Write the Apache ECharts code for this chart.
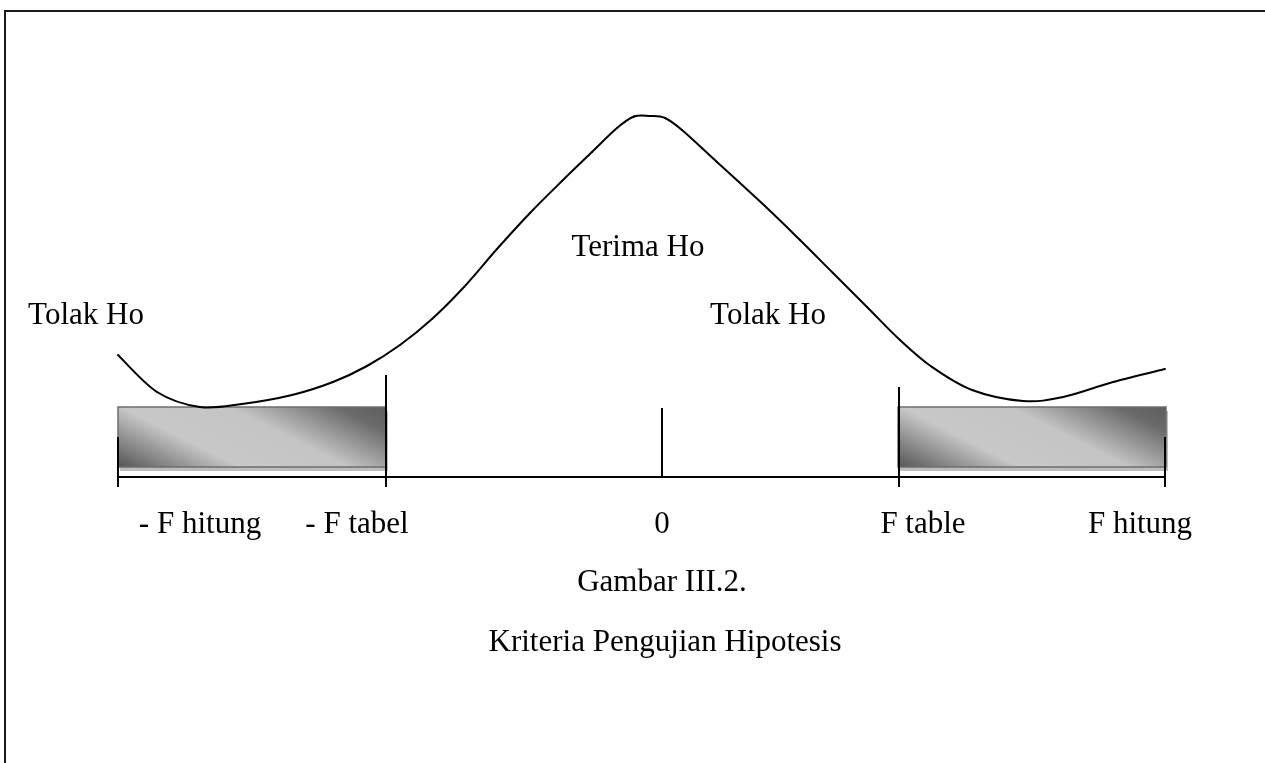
<!DOCTYPE html>
<html>
<head>
<meta charset="utf-8">
<title>Kriteria Pengujian Hipotesis</title>
<script src="https://cdn.jsdelivr.net/npm/echarts@6/dist/echarts.min.js"></script>
<style>
  html, body { margin: 0; padding: 0; background: #fff; }
  #main { width: 1265px; height: 763px; }
</style>
</head>
<body>
<div id="main"></div>
<script>
// x: distance from the 0 mark, y: height above the base line
const curveX = [-544, -505, -462, -420, -370, -329, -295, -262, -230, -198, -165, -132, -100, -70, -45, -28, -12, 3, 20, 55, 105, 138, 171, 205, 238, 270, 310, 361, 401, 451, 503];
const curveY = [122, 85, 70, 73, 82, 95, 111, 132, 158, 190, 228, 264, 296, 325, 349, 360.5, 361, 359, 347, 315, 269, 237, 204, 170, 137, 110, 87, 76, 80, 95, 108];

const tickX = [-544, -276, 0, 237, 503];
const tickTop = [40, 102, 69, 90, 40];
const tickBottom = [-10, -10, 0, -10, -10];
const tickLabels = ['- F hitung', '- F tabel', '0', 'F table', 'F hitung'];
const tickLabelX = [-462, -305, 0, 261, 478];
const tickLabelY = -48;

const regionLabels = ['Tolak Ho', 'Terima Ho', 'Tolak Ho'];
const regionLabelX = [-576, -24, 106];
const regionLabelY = [161, 229, 161];

const rejectStart = [-544, 236];
const rejectEnd = [-276, 504];
const rejectLow = 10;
const rejectHigh = 70;

const captionLines = ['Gambar III.2.', 'Kriteria Pengujian Hipotesis'];
const captionX = [0, 3];
const captionY = [-106, -166];

const serif = "'Liberation Serif', 'Times New Roman', serif";

var chart = echarts.init(document.getElementById('main'));

function textSeries(names, xs, ys) {
  return {
    type: 'scatter',
    symbolSize: 0,
    silent: true,
    itemStyle: { opacity: 1 },
    data: names.map(function (n, i) {
      return { value: [xs[i], Array.isArray(ys) ? ys[i] : ys], name: n };
    }),
    label: {
      show: true,
      position: 'inside',
      formatter: '{b}',
      color: '#000',
      opacity: 1,
      fontFamily: serif,
      fontSize: 31
    }
  };
}

// catmull-rom segment between point i and i+1
function curveSegment(params, api) {
  var i = params.dataIndex;
  var n = curveX.length;
  if (i >= n - 1) return { type: 'group', children: [] };
  var pt = function (k) {
    k = Math.max(0, Math.min(n - 1, k));
    return api.coord([curveX[k], curveY[k]]);
  };
  var p0 = pt(i - 1), p1 = pt(i), p2 = pt(i + 1), p3 = pt(i + 2);
  return {
    type: 'bezierCurve',
    shape: {
      x1: p1[0], y1: p1[1],
      cpx1: p1[0] + (p2[0] - p0[0]) / 6, cpy1: p1[1] + (p2[1] - p0[1]) / 6,
      cpx2: p2[0] - (p3[0] - p1[0]) / 6, cpy2: p2[1] - (p3[1] - p1[1]) / 6,
      x2: p2[0], y2: p2[1]
    },
    style: { stroke: '#000', lineWidth: 2, fill: null, lineCap: 'round' }
  };
}

chart.setOption({
  animation: false,
  backgroundColor: '#fff',
  grid: { left: 0, right: 0, top: 0, bottom: 0 },
  xAxis: { type: 'value', min: -662, max: 603, show: false },
  yAxis: { type: 'value', min: -286, max: 477, show: false },
  graphic: [{
    type: 'rect',
    shape: { x: 5, y: 11, width: 1400, height: 900 },
    style: { fill: null, stroke: '#1a1a1a', lineWidth: 2 },
    silent: true
  }],
  series: [
    {
      // shaded rejection areas
      type: 'custom',
      silent: true,
      data: rejectStart.map(function (s, i) { return [s, rejectEnd[i]]; }),
      renderItem: function (params, api) {
        var p0 = api.coord([api.value(0), rejectLow]);
        var p1 = api.coord([api.value(1), rejectHigh]);
        var w = p1[0] - p0[0], h = p0[1] - p1[1];
        var dx = 0.45, dy = -0.89;
        var L = dx * w - dy * h;
        var grad = new echarts.graphic.LinearGradient(
          p0[0], p0[1], p0[0] + dx * L, p0[1] + dy * L,
          [
            { offset: 0, color: '#555555' },
            { offset: 0.32, color: '#c8c8c8' },
            { offset: 0.6, color: '#c4c4c4' },
            { offset: 0.88, color: '#6a6a6a' },
            { offset: 1, color: '#5e5e5e' }
          ], true);
        return {
          type: 'group',
          children: [
            {
              type: 'rect',
              shape: { x: p0[0] + 2, y: p1[1] + 4, width: w, height: h },
              style: { fill: '#bdbdbd' }
            },
            {
              type: 'rect',
              shape: { x: p0[0], y: p1[1], width: w, height: h },
              style: { fill: grad, stroke: '#6e6e6e', lineWidth: 1.5 }
            }
          ]
        };
      }
    },
    {
      type: 'line',
      silent: true,
      symbol: 'none',
      data: [[tickX[0], 0], [tickX[tickX.length - 1], 0]],
      lineStyle: { color: '#000', width: 2 }
    },
    {
      type: 'custom',
      silent: true,
      data: tickX.map(function (x, i) { return [x, tickBottom[i], tickTop[i]]; }),
      renderItem: function (params, api) {
        var a = api.coord([api.value(0), api.value(1)]);
        var b = api.coord([api.value(0), api.value(2)]);
        return {
          type: 'line',
          shape: { x1: a[0], y1: a[1], x2: b[0], y2: b[1] },
          style: { stroke: '#000', lineWidth: 2 }
        };
      }
    },
    {
      type: 'custom',
      silent: true,
      data: curveX.map(function (x, i) { return [x, curveY[i]]; }),
      renderItem: curveSegment
    },
    textSeries(tickLabels, tickLabelX, tickLabelY),
    textSeries(regionLabels, regionLabelX, regionLabelY),
    textSeries(captionLines, captionX, captionY)
  ]
});
</script>
</body>
</html>
